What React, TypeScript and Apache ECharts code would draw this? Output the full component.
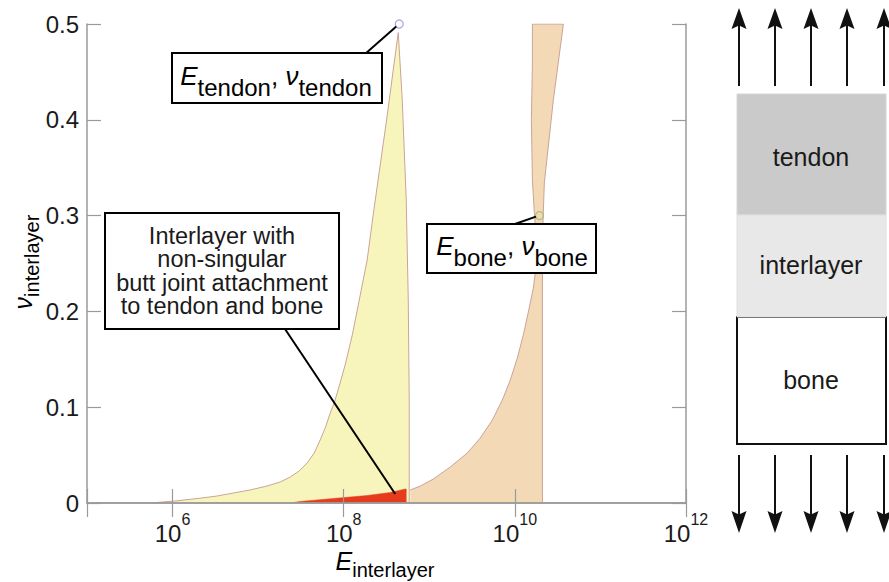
import React, { useEffect, useRef } from 'react';
import * as echarts from 'echarts';

// ---------- data (E on log axis, nu dimensionless) ----------
const tendonSideE = [5.46e5, 1.07e6, 2.1e6, 3.31e6, 5.11e6, 8.05e6, 1.27e7, 1.81e7, 2.37e7, 3.02e7, 3.74e7, 4.52e7, 5.31e7, 6.08e7, 6.95e7, 7.74e7, 8.39e7, 9.35e7, 1.04e8, 1.26e8, 1.48e8, 1.69e8, 1.88e8, 2.21e8, 2.67e8, 3.23e8, 3.79e8, 4.34e8, 4.83e8, 5.38e8, 5.68e8, 5.83e8, 5.83e8];
const tendonSideNu = [0, 0.0021, 0.005, 0.0073, 0.0104, 0.0136, 0.0177, 0.0219, 0.0271, 0.0334, 0.0418, 0.0522, 0.0658, 0.0783, 0.0939, 0.1044, 0.1148, 0.1294, 0.1441, 0.1754, 0.2067, 0.2328, 0.2537, 0.3006, 0.3528, 0.405, 0.452, 0.491, 0.421, 0.316, 0.212, 0.108, 0];

const boneSideE = [6.0e8, 7.85e8, 1.114e9, 1.76e9, 2.78e9, 3.94e9, 5.46e9, 7.14e9, 8.85e9, 1.069e10, 1.256e10, 1.438e10, 1.644e10, 1.78e10, 1.78e10, 1.69e10, 1.603e10, 1.56e10, 1.603e10, 1.603e10, 3.69e10, 2.82e10, 2.21e10, 2.15e10, 2.1e10, 2.1e10];
const boneSideNu = [0.0136, 0.0177, 0.025, 0.0376, 0.0522, 0.0678, 0.0866, 0.1075, 0.1284, 0.1514, 0.1754, 0.1994, 0.2244, 0.2484, 0.2745, 0.303, 0.337, 0.4, 0.457, 0.5, 0.5, 0.421, 0.334, 0.303, 0.275, 0];

const nonSingularE = [2.37e7, 3.1e7, 7.53e7, 1.88e8, 3.5e8, 5.24e8, 5.38e8, 5.38e8];
const nonSingularNu = [0, 0.0016, 0.0047, 0.0078, 0.011, 0.0146, 0.0146, 0];

const tendonPoint = [4.46e8, 0.5];
const bonePoint = [1.94e10, 0.3];
const leaderTarget = [4.0e8, 0.0094];

const xTickExponents = [6, 8, 10, 12];
const yTicks = [0, 0.1, 0.2, 0.3, 0.4, 0.5];
const layerNames = ['tendon', 'interlayer', 'bone'];
const boxLines = ['Interlayer with', 'non-singular', 'butt joint attachment', 'to tendon and bone'];

const FONT = '"Liberation Sans", Arial, Helvetica, sans-serif';
const INK = '#1a1a1a';
const AXIS = '#9a9a9a';

const zip = (a: number[], b: number[]) => a.map((v, i) => [v, b[i]]);

export default function App() {
  const ref = useRef<HTMLDivElement>(null);
  useEffect(() => {
    const chart = echarts.init(ref.current!, null, { renderer: 'svg' });
    const logAxisBase = {
      type: 'log' as const,
      logBase: 100,
      min: 1e5,
      max: 1e12,
      z: 5,
      splitLine: { show: false },
      minorTick: { show: false },
      axisLine: { lineStyle: { color: AXIS, width: 1.5 } },
      axisTick: { inside: true, length: 14, lineStyle: { color: AXIS, width: 1.2 } },
    };
    const valAxisBase = {
      type: 'value' as const,
      min: 0,
      max: 0.5,
      interval: 0.1,
      z: 5,
      splitLine: { show: false },
      axisLine: { show: true, lineStyle: { color: AXIS, width: 1.5 } },
      axisTick: { show: true, inside: true, length: 14, lineStyle: { color: AXIS, width: 1.2 } },
    };
    const option: any = {
      animation: false,
      backgroundColor: '#ffffff',
      grid: { left: 87, right: 203, top: 24, bottom: 79, containLabel: false },
      xAxis: [
        {
          ...logAxisBase,
          position: 'bottom',
          axisLabel: {
            margin: 8,
            formatter: (v: number) => {
              const p = Math.log10(v);
              const r = Math.round(p);
              if (Math.abs(p - r) > 1e-6 || xTickExponents.indexOf(r) < 0) return '';
              return `{b|10}{s|${r}}`;
            },
            rich: {
              b: { fontSize: 24, lineHeight: 24, verticalAlign: 'bottom', fontFamily: FONT, color: INK },
              s: { fontSize: 16, lineHeight: 34, verticalAlign: 'top', fontFamily: FONT, color: INK },
            },
          },
        },
        { ...logAxisBase, position: 'top', axisLabel: { show: false } },
      ],
      yAxis: [
        {
          ...valAxisBase,
          position: 'left',
          axisLabel: {
            margin: 8,
            fontSize: 24,
            fontFamily: FONT,
            color: INK,
            formatter: (v: number) => (yTicks.indexOf(+v.toFixed(1)) >= 0 ? (v === 0 ? '0' : v.toFixed(1)) : ''),
          },
        },
        { ...valAxisBase, position: 'right', axisLabel: { show: false } },
      ],
      series: [
        {
          type: 'line',
          data: zip(tendonSideE, tendonSideNu),
          symbol: 'none',
          lineStyle: { color: '#c9a497', width: 1 },
          areaStyle: { color: '#f8f5bc', opacity: 1 },
          z: 2,
        },
        {
          type: 'line',
          data: zip(boneSideE, boneSideNu),
          symbol: 'none',
          lineStyle: { color: '#c9a497', width: 1 },
          areaStyle: { color: '#f3d9b5', opacity: 1 },
          z: 2,
        },
        {
          type: 'line',
          data: zip(nonSingularE, nonSingularNu),
          symbol: 'none',
          lineStyle: { color: '#e63c1e', width: 0.5 },
          areaStyle: { color: '#e63c1e', opacity: 1 },
          z: 3,
        },
        {
          type: 'scatter',
          data: [tendonPoint],
          symbol: 'circle',
          symbolSize: 8,
          clip: false,
          itemStyle: { color: 'rgba(255,255,255,0)', borderColor: '#8d8fd8', borderWidth: 1.2 },
          z: 6,
        },
        {
          type: 'scatter',
          data: [bonePoint],
          symbol: 'circle',
          symbolSize: 8,
          clip: false,
          itemStyle: { color: 'rgba(255,255,255,0)', borderColor: '#98bd6c', borderWidth: 1.2 },
          z: 6,
        },
      ],
    };
    chart.setOption(option);

    const px = (p: number[]) => chart.convertToPixel({ xAxisIndex: 0, yAxisIndex: 0 }, p) as number[];
    const pT = px(tendonPoint);
    const pB = px(bonePoint);
    const pL = px(leaderTarget);

    const g: any[] = [];
    const Z = 100;
    // leader lines
    g.push({ type: 'line', z: Z, shape: { x1: 365, y1: 54, x2: pT[0] - 3, y2: pT[1] + 2.5 }, style: { stroke: '#000', lineWidth: 2 } });
    g.push({ type: 'line', z: Z, shape: { x1: 512, y1: 225, x2: pB[0] - 3.5, y2: pB[1] + 1 }, style: { stroke: '#000', lineWidth: 2 } });
    g.push({ type: 'line', z: Z, shape: { x1: 285, y1: 329, x2: pL[0], y2: pL[1] }, style: { stroke: '#000', lineWidth: 2 } });

    const subRich = {
      E: { fontSize: 26, fontStyle: 'italic', lineHeight: 26, verticalAlign: 'top', fontFamily: FONT, color: INK },
      c: { fontSize: 26, lineHeight: 26, verticalAlign: 'top', fontFamily: FONT, color: INK },
      s: { fontSize: 24, lineHeight: 48, verticalAlign: 'middle', fontFamily: FONT, color: INK },
    };
    // box 1 tendon
    g.push({ type: 'rect', z: Z, shape: { x: 172, y: 53, width: 210, height: 50 }, style: { fill: '#fff', stroke: '#000', lineWidth: 2 } });
    g.push({ type: 'text', z: Z + 1, x: 276, y: 63, style: { text: '{E|E}{s|tendon}{c|, }{E|ν}{s|tendon}', align: 'center', verticalAlign: 'top', rich: subRich } });
    // box 2 bone
    g.push({ type: 'rect', z: Z, shape: { x: 427, y: 224, width: 169, height: 49 }, style: { fill: '#fff', stroke: '#000', lineWidth: 2 } });
    g.push({ type: 'text', z: Z + 1, x: 512, y: 233, style: { text: '{E|E}{s|bone}{c|, }{E|ν}{s|bone}', align: 'center', verticalAlign: 'top', rich: subRich } });
    // box 3
    g.push({ type: 'rect', z: Z, shape: { x: 105, y: 213, width: 234, height: 116 }, style: { fill: '#fff', stroke: '#000', lineWidth: 2 } });
    g.push({ type: 'text', z: Z + 1, x: 222, y: 271, style: { text: boxLines.join('\n'), align: 'center', verticalAlign: 'middle', fontSize: 23.5, lineHeight: 23.5, fontFamily: FONT, fill: INK } });

    // axis names
    const nameRich = {
      E: { fontSize: 25, fontStyle: 'italic', lineHeight: 25, verticalAlign: 'top', fontFamily: FONT, color: INK },
      s: { fontSize: 20, lineHeight: 44, verticalAlign: 'middle', fontFamily: FONT, color: INK },
    };
    g.push({ type: 'text', z: Z, x: 385, y: 548, style: { text: '{E|E}{s|interlayer}', align: 'center', verticalAlign: 'top', rich: nameRich } });
    g.push({ type: 'text', z: Z, x: 10, y: 262, rotation: Math.PI / 2, style: { text: '{E|ν}{s|interlayer}', align: 'center', verticalAlign: 'top', rich: nameRich } });

    // right diagram
    const left = 737, w = 149;
    g.push({ type: 'rect', z: Z, shape: { x: left, y: 94, width: w, height: 121 }, style: { fill: '#c9cac9', stroke: '#d6d6d6', lineWidth: 1 } });
    g.push({ type: 'rect', z: Z, shape: { x: left, y: 317, width: w, height: 127 }, style: { fill: '#ffffff', stroke: '#111', lineWidth: 2 } });
    g.push({ type: 'rect', z: Z + 1, shape: { x: left, y: 215, width: w, height: 102 }, style: { fill: '#e8e8e8', stroke: '#dedede', lineWidth: 1 } });
    const labelY = [157, 265, 380];
    layerNames.forEach((t, i) => {
      g.push({ type: 'text', z: Z + 2, x: 811, y: labelY[i], style: { text: t, align: 'center', verticalAlign: 'middle', fontSize: 25, fontFamily: FONT, fill: INK } });
    });
    const arrowX = [739, 775, 811, 847, 884];
    arrowX.forEach((x) => {
      g.push({ type: 'line', z: Z, shape: { x1: x, y1: 86, x2: x, y2: 24 }, style: { stroke: '#111', lineWidth: 2 } });
      g.push({ type: 'polygon', z: Z, shape: { points: [[x, 8], [x - 7.5, 29], [x, 25.5], [x + 7.5, 29]] }, style: { fill: '#111' } });
      g.push({ type: 'line', z: Z, shape: { x1: x, y1: 455, x2: x, y2: 516 }, style: { stroke: '#111', lineWidth: 2 } });
      g.push({ type: 'polygon', z: Z, shape: { points: [[x, 533], [x - 7.5, 511], [x, 514.5], [x + 7.5, 511]] }, style: { fill: '#111' } });
    });

    chart.setOption({ graphic: g });
    return () => chart.dispose();
  }, []);
  return <div ref={ref} style={{ position: 'absolute', left: 0, top: 0, width: 889, height: 582 }} />;
}
